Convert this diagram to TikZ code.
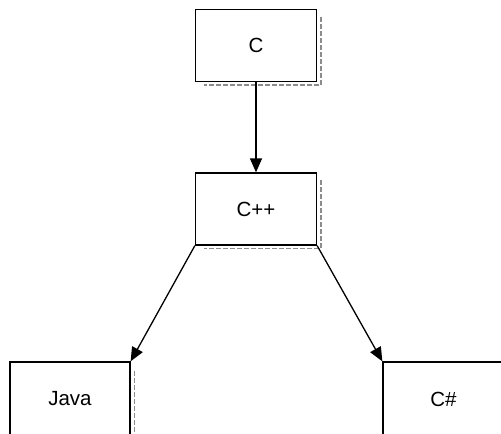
\documentclass[tikz,border=0pt]{standalone}
\usepackage{fontspec}
\setmainfont{Liberation Sans}
\usetikzlibrary{arrows.meta}
\begin{document}
\begin{tikzpicture}[x=1pt,y=-1pt,
  langbox/.style={draw=black,line width=1.3pt,fill=white,minimum width=121pt,minimum height=72pt,inner sep=0pt,font=\fontsize{20.5}{24}\selectfont},
  link/.style={draw=black,line width=1.3pt,-{Triangle[length=14pt,width=12pt]}},
  shade/.style={draw=black!45,line width=1.4pt,dash pattern=on 5pt off 2pt}]
\useasboundingbox (0,0) rectangle (501,434);
\node[langbox] (c) at (256,45.5) {C};
\node[langbox] (cpp) at (256,209) {C++};
\node[langbox,minimum width=120pt,minimum height=74pt] (java) at (70,399) {Java};
\node[langbox,minimum width=121pt,minimum height=74pt] (cs) at (443.5,399) {C\#};
% faint scan shadows
\draw[shade] ([xshift=4pt,yshift=-8pt]c.north east) -- ([xshift=4pt,yshift=-3pt]c.south east) -- ([xshift=-113pt,yshift=-3pt]c.south east);
\draw[shade] ([xshift=4pt,yshift=-8pt]cpp.north east) -- ([xshift=4pt,yshift=-3pt]cpp.south east) -- ([xshift=-113pt,yshift=-3pt]cpp.south east);
\draw[shade] ([xshift=4pt,yshift=-10pt]java.north east) -- ([xshift=4pt,yshift=-2pt]java.south east);
\draw[link] (c.south) -- (cpp.north);
\draw[link] (cpp.south west) -- (java.north east);
\draw[link] (cpp.south east) -- (cs.north west);
\end{tikzpicture}
\end{document}
